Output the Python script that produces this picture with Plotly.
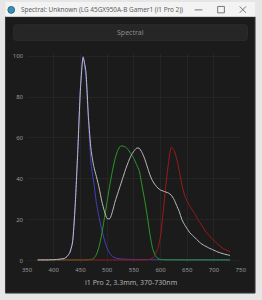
import plotly.graph_objects as go

W, H = 262, 300

wavelength = list(range(370, 735, 5))

blue = [0.3, 0.3, 0.3, 0.3, 0.3, 0.4, 0.4, 0.5, 0.6, 0.8,   # 370-415
        1.0, 2.0, 4.0, 9.0, 28, 55, 85, 100, 90, 68,         # 420-465
        47, 38, 28, 21, 15, 10, 6, 3.5, 2.0, 1.3,            # 470-515
        1.0, 0.8, 0.7, 0.6, 0.6, 0.5, 0.5, 0.5, 0.5, 0.5,    # 520-565
        0.5, 0.5, 0.5, 0.4, 0.4, 0.4, 0.4, 0.4, 0.4, 0.4,    # 570-615
        0.4, 0.4, 0.4, 0.4, 0.4, 0.3, 0.3, 0.3, 0.3, 0.3,    # 620-665
        0.3, 0.3, 0.3, 0.3, 0.3, 0.3, 0.3, 0.3, 0.3, 0.3,    # 670-715
        0.3, 0.3, 0.3]                                        # 720-730

green = [0.3, 0.3, 0.3, 0.3, 0.3, 0.3, 0.3, 0.3, 0.3, 0.3,   # 370-415
         0.3, 0.3, 0.3, 0.3, 0.3, 0.3, 0.3, 0.3, 0.3, 0.4,   # 420-465
         0.5, 1.0, 3.0, 7.0, 13, 21, 29, 37, 44, 50,         # 470-515
         54, 56, 56, 55.5, 54, 52, 50, 47, 44, 37,           # 520-565
         30, 22, 13, 6.0, 2.5, 1.0, 0.5, 0.4, 0.3, 0.3,      # 570-615
         0.3, 0.3, 0.3, 0.3, 0.3, 0.3, 0.3, 0.3, 0.3, 0.3,   # 620-665
         0.3, 0.3, 0.3, 0.3, 0.3, 0.3, 0.3, 0.3, 0.3, 0.3,   # 670-715
         0.3, 0.3, 0.3]

red = [0.3, 0.3, 0.3, 0.3, 0.3, 0.3, 0.3, 0.3, 0.3, 0.3,     # 370-415
       0.3, 0.3, 0.3, 0.3, 0.3, 0.3, 0.3, 0.3, 0.3, 0.3,     # 420-465
       0.3, 0.3, 0.3, 0.3, 0.3, 0.3, 0.3, 0.3, 0.3, 0.3,     # 470-515
       0.3, 0.3, 0.3, 0.3, 0.3, 0.3, 0.3, 0.3, 0.3, 0.3,     # 520-565
       0.3, 0.4, 0.6, 1.0, 3.0, 6.0, 12, 24, 37, 48,         # 570-615
       55.5, 54, 50, 44, 37, 32, 29, 26.5, 24.5, 22.5,       # 620-665
       20, 18, 16, 14, 12.5, 11, 9.8, 8.5, 7.3, 6.3,         # 670-715
       5.5, 4.9, 4.3]

white = [0.3, 0.3, 0.3, 0.3, 0.3, 0.4, 0.4, 0.5, 0.6, 0.8,   # 370-415
         1.0, 2.0, 3.8, 8.5, 26, 53, 84, 99.5, 93, 70,       # 420-465
         54, 46, 41, 35.5, 29, 24, 20.5, 20.5, 24, 29,       # 470-515
         33, 37, 41, 45, 48.5, 51.5, 53.5, 55, 55, 53,       # 520-565
         50, 46, 42, 39, 37, 35.5, 34.5, 34, 33.5, 33,       # 570-615
         32, 30, 27, 24, 20, 17.5, 15.5, 13.5, 12.3, 11,     # 620-665
         9.7, 8.5, 7.6, 6.9, 6.2, 5.6, 5.0, 4.4, 3.9, 3.5,   # 670-715
         3.1, 2.8, 2.5]

x_ticks = [350, 400, 450, 500, 550, 600, 650, 700, 750]
y_ticks = [0, 20, 40, 60, 80, 100]

title_text = "Spectral: Unknown (LG 45GX950A-B Gamer1 (i1 Pro 2))"
button_text = "Spectral"
caption_text = "i1 Pro 2, 3.3mm, 370-730nm"


def px(x):
    return x / W


def py(y):
    return 1 - y / H


def rounded_rect(x0, y0, x1, y1, r):
    return (f"M {px(x0 + r)},{py(y0)} L {px(x1 - r)},{py(y0)} "
            f"Q {px(x1)},{py(y0)} {px(x1)},{py(y0 + r)} "
            f"L {px(x1)},{py(y1 - r)} Q {px(x1)},{py(y1)} {px(x1 - r)},{py(y1)} "
            f"L {px(x0 + r)},{py(y1)} Q {px(x0)},{py(y1)} {px(x0)},{py(y1 - r)} "
            f"L {px(x0)},{py(y0 + r)} Q {px(x0)},{py(y0)} {px(x0 + r)},{py(y0)} Z")


fig = go.Figure()

series = [
    ("Blue", blue, "#4040c4"),
    ("Green", green, "#2a9c2a"),
    ("Red", red, "#9e1a1a"),
    ("Sum", white, "#bdbdbd"),
]
for name, vals, col in series:
    fig.add_trace(go.Scatter(
        x=wavelength, y=vals, mode="lines", name=name,
        line=dict(color=col, width=1, shape="spline", smoothing=0.6),
        hoverinfo="skip",
    ))

X0, X1 = 23, 246
Y_TOP, Y_ZERO = 55, 262
ppu = (Y_ZERO - Y_TOP) / 100.0
ylo, yhi = -1.0, 101.0
dom_y0 = py(Y_ZERO - ylo * ppu)
dom_y1 = py(Y_ZERO - yhi * ppu)

body_col = "#1b1b1b"

shapes = [
    dict(type="rect", xref="paper", yref="paper", x0=px(0.5), x1=px(261), y0=py(295), y1=py(15),
         fillcolor=body_col, line=dict(color="#3a3a3a", width=1), layer="below"),
    dict(type="rect", xref="paper", yref="paper", x0=px(0.5), x1=px(261), y0=py(15), y1=py(0),
         fillcolor="#f3f3f3", line=dict(width=0), layer="below"),
    dict(type="path", xref="paper", yref="paper", path=rounded_rect(9, 23, 253, 39, 3),
         fillcolor="#262626", line=dict(color="#2c2c2c", width=1), layer="below"),
    dict(type="circle", xref="paper", yref="paper", x0=px(3), x1=px(10), y0=py(11.5), y1=py(4.5),
         fillcolor="#3a8fb8", line=dict(color="#2a6a8a", width=1)),
    dict(type="line", xref="paper", yref="paper", x0=px(198), x1=px(206), y0=py(8), y1=py(8),
         line=dict(color="#777777", width=1)),
    dict(type="rect", xref="paper", yref="paper", x0=px(222), x1=px(229), y0=py(11), y1=py(4.5),
         line=dict(color="#777777", width=1)),
    dict(type="line", xref="paper", yref="paper", x0=px(245), x1=px(251.5), y0=py(4.5), y1=py(11),
         line=dict(color="#777777", width=1)),
    dict(type="line", xref="paper", yref="paper", x0=px(245), x1=px(251.5), y0=py(11), y1=py(4.5),
         line=dict(color="#777777", width=1)),
]

annotations = [
    dict(text=title_text, xref="paper", yref="paper", x=px(15), y=py(8),
         xanchor="left", yanchor="middle", showarrow=False,
         font=dict(size=6.4, color="#606060", family="Noto Sans")),
    dict(text=button_text, xref="paper", yref="paper", x=px(131), y=py(31),
         xanchor="center", yanchor="middle", showarrow=False,
         font=dict(size=7, color="#8a8a8a", family="Noto Sans")),
    dict(text=caption_text, xref="paper", yref="paper", x=px(131), y=py(284.5),
         xanchor="center", yanchor="middle", showarrow=False,
         font=dict(size=7, color="#b0b0b0", family="Noto Sans")),
]

fig.update_layout(
    width=W, height=H,
    margin=dict(l=0, r=0, t=0, b=0),
    paper_bgcolor="#e6e6e6",
    plot_bgcolor="#151515",
    showlegend=False,
    shapes=shapes,
    annotations=annotations,
    font=dict(family="Noto Sans", size=6, color="#9a9a9a"),
    xaxis=dict(
        domain=[px(X0), px(X1)], range=[350, 750],
        tickvals=x_ticks, ticktext=[str(v) for v in x_ticks],
        showgrid=True, gridcolor="#252525", gridwidth=1,
        zeroline=False, showline=False, ticks="", ticklabelstandoff=2,
        tickfont=dict(size=6, color="#999999"), fixedrange=True,
    ),
    yaxis=dict(
        domain=[dom_y0, dom_y1], range=[ylo, yhi],
        tickvals=y_ticks, ticktext=[str(v) for v in y_ticks],
        showgrid=True, gridcolor="#252525", gridwidth=1,
        zeroline=False, showline=False, ticks="", ticklabelstandoff=3,
        tickfont=dict(size=6, color="#999999"), fixedrange=True,
    ),
)

fig.write_html("out.html", config={"displayModeBar": False})
